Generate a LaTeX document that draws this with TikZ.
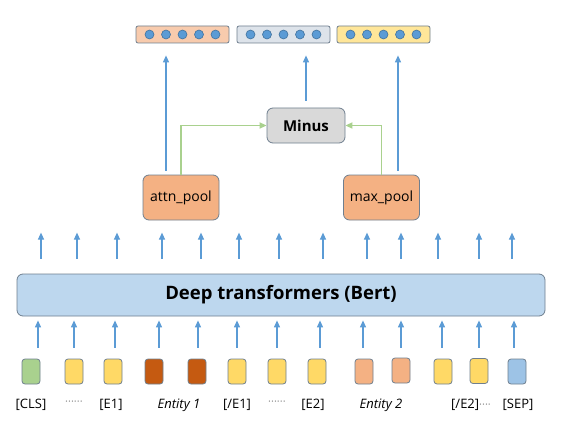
\documentclass[tikz,border=0pt]{standalone}
\usepackage{fontspec}
\setmainfont{Open Sans}
\usetikzlibrary{arrows.meta, positioning, calc}

\definecolor{arrowblue}{HTML}{5B9BD5}
\definecolor{arrowgreen}{HTML}{A9D18E}
\definecolor{edgegray}{HTML}{6F7F8F}
\definecolor{dotblue}{HTML}{5B9BD5}
\definecolor{dotedge}{HTML}{41719C}
\definecolor{dotgray}{HTML}{8C8C8C}
\definecolor{vecsalmon}{HTML}{F8CBAD}
\definecolor{vecgray}{HTML}{DDE3EA}
\definecolor{vecyellow}{HTML}{FFE699}
\definecolor{minusgray}{HTML}{D9D9D9}
\definecolor{poolorange}{HTML}{F4B183}
\definecolor{bertblue}{HTML}{BDD7EE}
\definecolor{tokgreen}{HTML}{A9D18E}
\definecolor{tokyellow}{HTML}{FFD966}
\definecolor{tokdark}{HTML}{C55A11}
\definecolor{toklight}{HTML}{F4B183}
\definecolor{tokblue}{HTML}{9DC3E6}

\begin{document}
\begin{tikzpicture}[
    x=1pt, y=1pt,
    >={Triangle[length=7pt, width=6pt]}, % filled triangle heads
    every node/.style={font={\fontsize{13}{15}\selectfont}},
    box/.style={draw=edgegray, line width=0.8pt, rounded corners=3pt},
    tok/.style={box, minimum width=18pt, minimum height=25pt, inner sep=0pt},
    vec/.style={box, rounded corners=2pt, minimum width=93pt, minimum height=17pt, inner sep=0pt},
    pool/.style={box, fill=poolorange, rounded corners=6pt, minimum width=76pt, minimum height=45pt, font={\fontsize{14}{16}\selectfont}},
    arr/.style={->, draw=arrowblue, line width=1.2pt},
    garr/.style={->, draw=arrowgreen, line width=1.6pt},
    inarr/.style={arr, shorten <=11pt, shorten >=4pt}, % token -> bert
    outarr/.style={arr, shorten <=15pt}, % bert -> up
    dot/.style={fill=dotblue, draw=dotedge, line width=0.6pt},
    dots/.style={text=dotgray, font={\fontsize{11}{13}\selectfont}},
  ]
  \useasboundingbox (0,0) rectangle (565,432);

  % output vectors
  \node[vec, fill=vecsalmon] (v1) at (182.5,397.5) {};
  \node[vec, fill=vecgray] (v2) at (283.5,397.5) {};
  \node[vec, fill=vecyellow] (v3) at (383.5,397.5) {};
  \foreach \dx in {-33,-16.5,0,16.5,33} {
    \filldraw[dot] ($(v1)+(\dx,0)$) circle (4.5);
    \filldraw[dot] ($(v2)+(\dx,0)$) circle (4.5);
    \filldraw[dot] ($(v3)+(\dx,0)$) circle (4.5);
  }

  % pooling
  \node[box, fill=minusgray, rounded corners=6pt, minimum width=78pt, minimum height=35pt,
    font={\bfseries\fontsize{15}{17}\selectfont}] (minus) at (306,306.5) {Minus};
  \node[pool] (attn) at (181,234.5) {attn\_pool};
  \node[pool] (maxp) at (381.5,234.5) {max\_pool};

  \node[box, fill=bertblue, rounded corners=6pt, minimum width=528pt, minimum height=42pt,
    font={\bfseries\fontsize{18.5}{20}\selectfont}] (bert) at (281,137) {Deep transformers (Bert)};

  % input tokens
  \node[tok, fill=tokgreen] (t1) at (31,60.5) {};
  \node[tok, fill=tokyellow] (t2) at (74,60.5) {};
  \node[tok, fill=tokyellow] (t3) at (113,60.5) {};
  \node[tok, fill=tokdark] (t4) at (154,60.5) {};
  \node[tok, fill=tokdark] (t5) at (197,60.5) {};
  \node[tok, fill=tokyellow] (t6) at (237,60.5) {};
  \node[tok, fill=tokyellow] (t7) at (277,60.5) {};
  \node[tok, fill=tokyellow] (t8) at (317,60.5) {};
  \node[tok, fill=toklight] (t9) at (364,60.5) {};
  \node[tok, fill=toklight] (t10) at (401,61.5) {};
  \node[tok, fill=tokyellow] (t11) at (443,60.5) {};
  \node[tok, fill=tokyellow] (t12) at (479,61) {};
  \node[tok, fill=tokblue] (t13) at (517,60.5) {};

  \node (l1) at (t1 |- 0,27) {[CLS]};
  \node[dots] (l2) at (t2 |- 0,29) {······};
  \node (l3) at (111,27) {[E1]};
  \node (l4) at (179,27) {\itshape Entity 1};
  \node (l6) at (t6 |- 0,27) {[/E1]};
  \node[dots] (l7) at (t7 |- 0,29) {······};
  \node (l8) at (313,27) {[E2]};
  \node (l9) at (381,27) {\itshape Entity 2};
  \node[anchor=west, inner sep=0pt] (l11) at (451,27) {[/E2]{\color{dotgray}\fontsize{11}{13}\selectfont ····}};
  \node (l13) at (518,27) {[SEP]};

  % outputs
  \draw[arr, shorten <=4pt, shorten >=12pt] ([xshift=-15pt]attn.north) -- ([xshift=-15pt]attn.north |- v1.south);
  \draw[arr, shorten <=7pt, shorten >=12pt] (minus.north) -- (minus.north |- v2.south);
  \draw[arr, shorten <=4pt, shorten >=12pt] ([xshift=16.5pt]maxp.north) -- ([xshift=16.5pt]maxp.north |- v3.south);
  \draw[garr] (attn.north) |- (minus.west);
  \draw[garr] (maxp.north) |- (minus.east);

  % tokens into bert
  \draw[inarr] ([xshift=7pt]t1.north) -- ([xshift=7pt]t1.north |- bert.south);
  \draw[inarr] (t2.north) -- (t2.north |- bert.south);
  \draw[inarr] ([xshift=2pt]t3.north) -- ([xshift=2pt]t3.north |- bert.south);
  \draw[inarr] ([xshift=5pt]t4.north) -- ([xshift=5pt]t4.north |- bert.south);
  \draw[inarr] ([xshift=1pt]t5.north) -- ([xshift=1pt]t5.north |- bert.south);
  \draw[inarr] (t6.north) -- (t6.north |- bert.south);
  \draw[inarr] (t7.north) -- (t7.north |- bert.south);
  \draw[inarr] ([xshift=3pt]t8.north) -- ([xshift=3pt]t8.north |- bert.south);
  \draw[inarr] ([xshift=-1pt]t9.north) -- ([xshift=-1pt]t9.north |- bert.south);
  \draw[inarr] ([yshift=-1pt]t10.north) -- (t10.north |- bert.south);
  \draw[inarr] ([xshift=-1pt]t11.north) -- ([xshift=-1pt]t11.north |- bert.south);
  \draw[inarr] ([yshift=-0.5pt]t12.north) -- (t12.north |- bert.south);
  \draw[inarr] ([xshift=-3pt]t13.north) -- ([xshift=-3pt]t13.north |- bert.south);

  % bert outputs
  \draw[outarr] ([xshift=10pt]t1.north |- bert.north) -- ++(0,41);
  \draw[outarr] ([xshift=3pt]t2.north |- bert.north) -- ++(0,41);
  \draw[outarr] ([xshift=4pt]t3.north |- bert.north) -- ++(0,41);
  \draw[outarr] ([xshift=8pt]t4.north |- bert.north) -- ++(0,41);
  \draw[outarr] ([xshift=4pt]t5.north |- bert.north) -- ++(0,41);
  \draw[outarr] ([xshift=2pt]t6.north |- bert.north) -- ++(0,41);
  \draw[outarr] ([xshift=2pt]t7.north |- bert.north) -- ++(0,41);
  \draw[outarr] ([xshift=6pt]t8.north |- bert.north) -- ++(0,41);
  \draw[outarr] ([xshift=3pt]t9.north |- bert.north) -- ++(0,41);
  \draw[outarr] (t10.north |- bert.north) -- ++(0,41);
  \draw[outarr] ([xshift=-5pt]t11.north |- bert.north) -- ++(0,41);
  \draw[outarr] (t12.north |- bert.north) -- ++(0,41);
  \draw[outarr] ([xshift=-5pt]t13.north |- bert.north) -- ++(0,41);

\end{tikzpicture}
\end{document}
